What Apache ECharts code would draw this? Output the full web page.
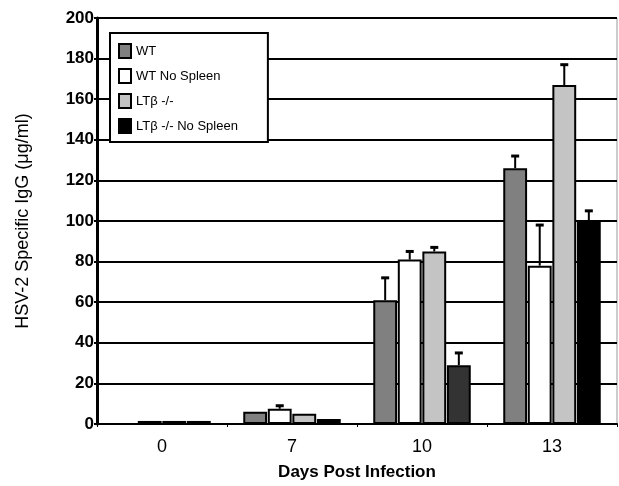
<!DOCTYPE html>
<html>
<head>
<meta charset="utf-8">
<script src="https://cdn.jsdelivr.net/npm/echarts@6/dist/echarts.min.js"></script>
<style>
  html, body { margin: 0; padding: 0; background: #fff; }
  #chart { width: 619px; height: 486px; }
</style>
</head>
<body>
<div id="chart"></div>
<script>
  // days post infection
  var days = ['0', '7', '10', '13']
  // bar heights (ug/ml)
  var wt = [0, 6, 61, 126]
  var wtNoSpleen = [1.5, 7.5, 81, 78]
  var ltb = [1.5, 5, 85, 167]
  var ltbNoSpleen = [1.5, 2.5, 29, 100]
  // upper error bars
  var wtErr = [0, 0, 11, 6]
  var wtNoSpleenErr = [0, 1.5, 4, 20]
  var ltbErr = [0, 0, 2, 10]
  var ltbNoSpleenErr = [0, 0, 6, 5]
  var yTicks = [0, 20, 40, 60, 80, 100, 120, 140, 160, 180, 200]

  var names = ['WT', 'WT No Spleen', 'LTβ -/-', 'LTβ -/- No Spleen']
  var colors = ['#808080', '#ffffff', '#c4c4c4', '#000000']
  var catGap = 0.25
  var barGap = 0.03

  var chart = echarts.init(document.getElementById('chart'))

  function barSeries(i, vals) {
    return {
      name: names[i],
      type: 'bar',
      barCategoryGap: (catGap * 100) + '%',
      barGap: (barGap * 100) + '%',
      itemStyle: { color: colors[i], borderColor: '#000', borderWidth: 2 },
      data: vals.map(function (v, k) {
        // day 10 black bar is a bit lighter in the original
        if (i === 3 && k === 2) {
          return { value: v, itemStyle: { color: '#333' } }
        }
        return v
      }),
      z: 2
    }
  }

  // top-only error bars, placed over the i-th bar in each group
  function errSeries(i, vals, errs) {
    return {
      type: 'custom',
      renderItem: function (params, api) {
        var c = api.value(0)
        var v = api.value(1)
        var e = api.value(2)
        if (!e) return
        var band = api.size([1, 0])[0]
        var group = band * (1 - catGap)
        var w = group / (4 + 3 * barGap)
        var x = api.coord([c, 0])[0] - group / 2 + w / 2 + i * w * (1 + barGap)
        var y0 = api.coord([c, v])[1]
        var y1 = api.coord([c, v + e])[1]
        return {
          type: 'group',
          children: [
            { type: 'line', shape: { x1: x, y1: y0, x2: x, y2: y1 }, style: { stroke: '#000', lineWidth: 2 } },
            { type: 'line', shape: { x1: x - 4, y1: y1, x2: x + 4, y2: y1 }, style: { stroke: '#000', lineWidth: 3 } }
          ]
        }
      },
      data: vals.map(function (v, k) { return [k, v, errs[k]] }),
      z: 3
    }
  }

  chart.setOption({
    animation: false,
    backgroundColor: '#fff',
    textStyle: { fontFamily: 'Liberation Sans, Arial, sans-serif' },
    grid: {
      left: 97, right: 2, top: 18, bottom: 60,
      show: true, borderColor: '#999', borderWidth: 1
    },
    legend: {
      orient: 'vertical',
      left: 110,
      top: 33,
      width: 160,
      data: names,
      icon: 'rect',
      backgroundColor: '#fff',
      borderColor: '#000',
      borderWidth: 2,
      padding: [10, 30, 8, 8],
      itemWidth: 12,
      itemHeight: 14,
      itemGap: 9,
      textStyle: { fontSize: 13, color: '#000' },
      z: 10
    },
    xAxis: {
      type: 'category',
      data: days,
      name: 'Days Post Infection',
      nameLocation: 'middle',
      nameGap: 40,
      nameTextStyle: { fontSize: 17, fontWeight: 'bold', color: '#000' },
      axisLine: { lineStyle: { color: '#000', width: 2 } },
      axisTick: { show: true, length: 3, lineStyle: { color: '#000' } },
      axisLabel: { fontSize: 18, color: '#000', margin: 14 }
    },
    yAxis: {
      type: 'value',
      min: yTicks[0],
      max: yTicks[yTicks.length - 1],
      interval: 20,
      name: 'HSV-2 Specific IgG (μg/ml)',
      nameLocation: 'middle',
      nameGap: 65,
      nameTextStyle: { fontSize: 18, color: '#000' },
      axisLine: { show: true, lineStyle: { color: '#000', width: 3 } },
      axisTick: { show: true, length: 3, lineStyle: { color: '#000', width: 2 } },
      axisLabel: { fontSize: 17, fontWeight: 'bold', color: '#000', margin: 3 },
      splitLine: { lineStyle: { color: '#000', width: 2 } }
    },
    series: [
      barSeries(0, wt),
      barSeries(1, wtNoSpleen),
      barSeries(2, ltb),
      barSeries(3, ltbNoSpleen),
      errSeries(0, wt, wtErr),
      errSeries(1, wtNoSpleen, wtNoSpleenErr),
      errSeries(2, ltb, ltbErr),
      errSeries(3, ltbNoSpleen, ltbNoSpleenErr)
    ]
  })
</script>
</body>
</html>
